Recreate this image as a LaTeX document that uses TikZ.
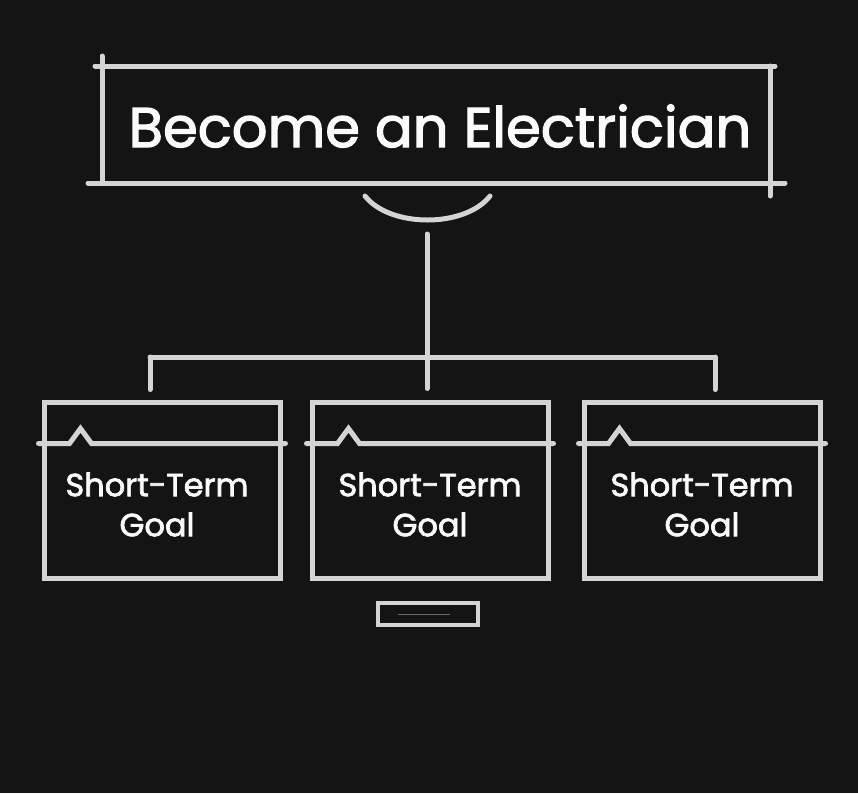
\documentclass[tikz,border=0pt]{standalone}
\usepackage{fontspec}
\setmainfont{Poppins}
\newfontfamily\chalkfont{Poppins}[FakeBold=2.2]
\usetikzlibrary{positioning,calc}
\definecolor{board}{HTML}{141414}
\definecolor{chalk}{HTML}{D4D4D4}
\definecolor{chalkText}{HTML}{FAFAFA}
\definecolor{chalkFaint}{HTML}{6A6A6A}
\tikzset{
  chalkline/.style={draw=chalk, line width=5pt, line cap=round},
  titletext/.style={text=chalkText, font=\chalkfont\fontsize{56}{62}\selectfont},
  goaltext/.style={text=chalkText, font=\chalkfont\fontsize{32}{40}\selectfont, align=center},
  goalbox/.style={draw=chalk, line width=5pt, minimum width=236pt, minimum height=176pt, inner sep=0pt},
  tabbox/.style={draw=chalk, line width=4.5pt, minimum width=100pt, minimum height=22pt, inner sep=0pt}
}
\begin{document}
\begin{tikzpicture}[x=1pt, y=-1pt]
  \fill[board] (0,0) rectangle (858,793);
  \useasboundingbox (0,0) rectangle (858,793);

  % title board
  \node[titletext] (title) at (440,126) {Become an Electrician};
  \draw[chalkline] (95,66) -- (775,66);
  \draw[chalkline] (88,183) -- (785,183);
  \draw[chalkline] (102,56) -- (102,183);
  \draw[chalkline] (770,66) -- (770,196);
  \draw[chalkline] (365,196) .. controls (390,228) and (465,228) .. (490,196);

  % goal boxes
  \node[goalbox] (goalA) at (162,490) {};
  \node[goalbox] (goalB) at (430,490) {};
  \node[goalbox] (goalC) at (702,490) {};
  \draw[chalkline] ($(goalA.north west)+(-3,44)$) -- ++(31,0) -- ++(11,-15) -- ++(11,15) -- ($(goalA.north east)+(3,44)$);
  \draw[chalkline] ($(goalB.north west)+(-3,44)$) -- ++(31,0) -- ++(11,-15) -- ++(11,15) -- ($(goalB.north east)+(3,44)$);
  \draw[chalkline] ($(goalC.north west)+(-3,44)$) -- ++(30,0) -- ++(11,-15) -- ++(11,15) -- ($(goalC.north east)+(3,44)$);
  \node[goaltext] (textA) at ($(goalA.north)+(-5,105)$) {Short-Term\\Goal};
  \node[goaltext] (textB) at ($(goalB.north)+(0,105)$) {Short-Term\\Goal};
  \node[goaltext] (textC) at ($(goalC.north)+(0,105)$) {Short-Term\\Goal};

  % connectors
  \coordinate (stem) at (427,234);
  \coordinate (hubL) at (150,357);
  \coordinate (hubR) at (715,357);
  \draw[chalkline, shorten >=11pt] (stem) -- (stem |- goalB.north);
  \draw[chalkline] (hubL) -- (hubR);
  \draw[chalkline, shorten >=10pt] (hubL) -- (hubL |- goalA.north);
  \draw[chalkline, shorten >=10pt] (hubR) -- (hubR |- goalC.north);

  % tab under the middle box
  \node[tabbox] (tab) at (428,614) {};
  \draw[chalkFaint, line width=1pt] ($(tab.west)+(22,0)$) -- ($(tab.east)+(-30,0)$);
\end{tikzpicture}
\end{document}
